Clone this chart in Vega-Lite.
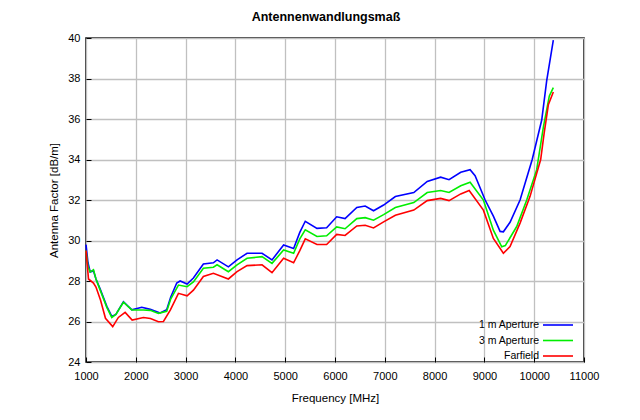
{
  "$schema": "https://vega.github.io/schema/vega-lite/v6.json",
  "width": 498,
  "height": 324,
  "autosize": {"type": "none"},
  "padding": {"left": 86, "top": 38, "right": 56, "bottom": 58},
  "background": "white",
  "title": {"text": "Antennenwandlungsmaß", "font": "Liberation Sans", "fontSize": 12.5, "fontWeight": "bold", "color": "black", "anchor": "middle", "offset": 9, "dx": -9},
  "config": {
    "view": {"stroke": "black", "strokeWidth": 1.5},
    "axis": {"labelFont": "Liberation Sans", "titleFont": "Liberation Sans", "labelFontSize": 11, "titleFontSize": 11.5, "titleFontWeight": "normal", "labelColor": "black", "titleColor": "black", "gridColor": "#c0c0c0", "gridWidth": 1.3, "gridOpacity": 1, "domain": false, "ticks": true, "tickSize": -5, "tickColor": "black", "tickWidth": 1},
    "legend": {"labelFont": "Liberation Sans", "labelFontSize": 10.5, "labelColor": "black"}
  },
  "data": {"values": [
    {"f": 1000, "v": 29.8, "s": "1 m Aperture"},
    {"f": 1040, "v": 28.9, "s": "1 m Aperture"},
    {"f": 1084, "v": 28.45, "s": "1 m Aperture"},
    {"f": 1150, "v": 28.5, "s": "1 m Aperture"},
    {"f": 1200, "v": 28.1, "s": "1 m Aperture"},
    {"f": 1285, "v": 27.6, "s": "1 m Aperture"},
    {"f": 1418, "v": 26.75, "s": "1 m Aperture"},
    {"f": 1518, "v": 26.25, "s": "1 m Aperture"},
    {"f": 1600, "v": 26.35, "s": "1 m Aperture"},
    {"f": 1752, "v": 26.98, "s": "1 m Aperture"},
    {"f": 1920, "v": 26.58, "s": "1 m Aperture"},
    {"f": 2120, "v": 26.7, "s": "1 m Aperture"},
    {"f": 2290, "v": 26.6, "s": "1 m Aperture"},
    {"f": 2488, "v": 26.42, "s": "1 m Aperture"},
    {"f": 2620, "v": 26.58, "s": "1 m Aperture"},
    {"f": 2700, "v": 27.2, "s": "1 m Aperture"},
    {"f": 2822, "v": 27.9, "s": "1 m Aperture"},
    {"f": 2890, "v": 28.0, "s": "1 m Aperture"},
    {"f": 3030, "v": 27.85, "s": "1 m Aperture"},
    {"f": 3157, "v": 28.15, "s": "1 m Aperture"},
    {"f": 3357, "v": 28.84, "s": "1 m Aperture"},
    {"f": 3558, "v": 28.9, "s": "1 m Aperture"},
    {"f": 3632, "v": 29.04, "s": "1 m Aperture"},
    {"f": 3859, "v": 28.7, "s": "1 m Aperture"},
    {"f": 4033, "v": 29.04, "s": "1 m Aperture"},
    {"f": 4234, "v": 29.37, "s": "1 m Aperture"},
    {"f": 4535, "v": 29.37, "s": "1 m Aperture"},
    {"f": 4735, "v": 29.04, "s": "1 m Aperture"},
    {"f": 4968, "v": 29.78, "s": "1 m Aperture"},
    {"f": 5169, "v": 29.6, "s": "1 m Aperture"},
    {"f": 5293, "v": 30.4, "s": "1 m Aperture"},
    {"f": 5403, "v": 30.95, "s": "1 m Aperture"},
    {"f": 5638, "v": 30.6, "s": "1 m Aperture"},
    {"f": 5832, "v": 30.63, "s": "1 m Aperture"},
    {"f": 6034, "v": 31.17, "s": "1 m Aperture"},
    {"f": 6202, "v": 31.08, "s": "1 m Aperture"},
    {"f": 6438, "v": 31.63, "s": "1 m Aperture"},
    {"f": 6606, "v": 31.7, "s": "1 m Aperture"},
    {"f": 6774, "v": 31.47, "s": "1 m Aperture"},
    {"f": 6976, "v": 31.75, "s": "1 m Aperture"},
    {"f": 7212, "v": 32.17, "s": "1 m Aperture"},
    {"f": 7582, "v": 32.37, "s": "1 m Aperture"},
    {"f": 7852, "v": 32.92, "s": "1 m Aperture"},
    {"f": 8121, "v": 33.13, "s": "1 m Aperture"},
    {"f": 8290, "v": 33.0, "s": "1 m Aperture"},
    {"f": 8525, "v": 33.37, "s": "1 m Aperture"},
    {"f": 8713, "v": 33.5, "s": "1 m Aperture"},
    {"f": 8813, "v": 33.2, "s": "1 m Aperture"},
    {"f": 9015, "v": 32.0, "s": "1 m Aperture"},
    {"f": 9180, "v": 31.2, "s": "1 m Aperture"},
    {"f": 9315, "v": 30.45, "s": "1 m Aperture"},
    {"f": 9381, "v": 30.43, "s": "1 m Aperture"},
    {"f": 9515, "v": 30.9, "s": "1 m Aperture"},
    {"f": 9716, "v": 32.0, "s": "1 m Aperture"},
    {"f": 9850, "v": 33.1, "s": "1 m Aperture"},
    {"f": 9960, "v": 34.0, "s": "1 m Aperture"},
    {"f": 10151, "v": 35.95, "s": "1 m Aperture"},
    {"f": 10251, "v": 37.9, "s": "1 m Aperture"},
    {"f": 10384, "v": 39.9, "s": "1 m Aperture"},
    {"f": 1000, "v": 29.5, "s": "3 m Aperture"},
    {"f": 1040, "v": 28.7, "s": "3 m Aperture"},
    {"f": 1084, "v": 28.45, "s": "3 m Aperture"},
    {"f": 1150, "v": 28.55, "s": "3 m Aperture"},
    {"f": 1200, "v": 28.1, "s": "3 m Aperture"},
    {"f": 1285, "v": 27.55, "s": "3 m Aperture"},
    {"f": 1418, "v": 26.7, "s": "3 m Aperture"},
    {"f": 1518, "v": 26.2, "s": "3 m Aperture"},
    {"f": 1600, "v": 26.35, "s": "3 m Aperture"},
    {"f": 1752, "v": 26.95, "s": "3 m Aperture"},
    {"f": 1920, "v": 26.57, "s": "3 m Aperture"},
    {"f": 2153, "v": 26.57, "s": "3 m Aperture"},
    {"f": 2290, "v": 26.55, "s": "3 m Aperture"},
    {"f": 2454, "v": 26.4, "s": "3 m Aperture"},
    {"f": 2620, "v": 26.5, "s": "3 m Aperture"},
    {"f": 2700, "v": 27.1, "s": "3 m Aperture"},
    {"f": 2856, "v": 27.8, "s": "3 m Aperture"},
    {"f": 3030, "v": 27.72, "s": "3 m Aperture"},
    {"f": 3157, "v": 27.95, "s": "3 m Aperture"},
    {"f": 3357, "v": 28.63, "s": "3 m Aperture"},
    {"f": 3558, "v": 28.68, "s": "3 m Aperture"},
    {"f": 3632, "v": 28.8, "s": "3 m Aperture"},
    {"f": 3859, "v": 28.46, "s": "3 m Aperture"},
    {"f": 4033, "v": 28.8, "s": "3 m Aperture"},
    {"f": 4234, "v": 29.12, "s": "3 m Aperture"},
    {"f": 4535, "v": 29.2, "s": "3 m Aperture"},
    {"f": 4735, "v": 28.87, "s": "3 m Aperture"},
    {"f": 4968, "v": 29.53, "s": "3 m Aperture"},
    {"f": 5169, "v": 29.37, "s": "3 m Aperture"},
    {"f": 5293, "v": 30.08, "s": "3 m Aperture"},
    {"f": 5403, "v": 30.53, "s": "3 m Aperture"},
    {"f": 5638, "v": 30.2, "s": "3 m Aperture"},
    {"f": 5832, "v": 30.23, "s": "3 m Aperture"},
    {"f": 6034, "v": 30.67, "s": "3 m Aperture"},
    {"f": 6202, "v": 30.58, "s": "3 m Aperture"},
    {"f": 6438, "v": 31.08, "s": "3 m Aperture"},
    {"f": 6606, "v": 31.13, "s": "3 m Aperture"},
    {"f": 6774, "v": 31.0, "s": "3 m Aperture"},
    {"f": 6976, "v": 31.28, "s": "3 m Aperture"},
    {"f": 7212, "v": 31.63, "s": "3 m Aperture"},
    {"f": 7582, "v": 31.87, "s": "3 m Aperture"},
    {"f": 7852, "v": 32.37, "s": "3 m Aperture"},
    {"f": 8121, "v": 32.47, "s": "3 m Aperture"},
    {"f": 8290, "v": 32.37, "s": "3 m Aperture"},
    {"f": 8525, "v": 32.7, "s": "3 m Aperture"},
    {"f": 8713, "v": 32.88, "s": "3 m Aperture"},
    {"f": 8980, "v": 32.0, "s": "3 m Aperture"},
    {"f": 9180, "v": 30.51, "s": "3 m Aperture"},
    {"f": 9348, "v": 29.69, "s": "3 m Aperture"},
    {"f": 9420, "v": 29.75, "s": "3 m Aperture"},
    {"f": 9649, "v": 30.69, "s": "3 m Aperture"},
    {"f": 9850, "v": 32.0, "s": "3 m Aperture"},
    {"f": 10050, "v": 33.5, "s": "3 m Aperture"},
    {"f": 10184, "v": 35.6, "s": "3 m Aperture"},
    {"f": 10304, "v": 37.14, "s": "3 m Aperture"},
    {"f": 10384, "v": 37.55, "s": "3 m Aperture"},
    {"f": 1000, "v": 29.5, "s": "Farfield"},
    {"f": 1050, "v": 28.1, "s": "Farfield"},
    {"f": 1150, "v": 27.9, "s": "Farfield"},
    {"f": 1200, "v": 27.7, "s": "Farfield"},
    {"f": 1291, "v": 27.06, "s": "Farfield"},
    {"f": 1391, "v": 26.16, "s": "Farfield"},
    {"f": 1537, "v": 25.75, "s": "Farfield"},
    {"f": 1650, "v": 26.2, "s": "Farfield"},
    {"f": 1786, "v": 26.45, "s": "Farfield"},
    {"f": 1927, "v": 26.07, "s": "Farfield"},
    {"f": 2153, "v": 26.2, "s": "Farfield"},
    {"f": 2294, "v": 26.15, "s": "Farfield"},
    {"f": 2454, "v": 25.99, "s": "Farfield"},
    {"f": 2555, "v": 26.0, "s": "Farfield"},
    {"f": 2695, "v": 26.57, "s": "Farfield"},
    {"f": 2856, "v": 27.39, "s": "Farfield"},
    {"f": 3030, "v": 27.27, "s": "Farfield"},
    {"f": 3157, "v": 27.55, "s": "Farfield"},
    {"f": 3357, "v": 28.22, "s": "Farfield"},
    {"f": 3558, "v": 28.38, "s": "Farfield"},
    {"f": 3859, "v": 28.1, "s": "Farfield"},
    {"f": 4033, "v": 28.46, "s": "Farfield"},
    {"f": 4234, "v": 28.76, "s": "Farfield"},
    {"f": 4535, "v": 28.8, "s": "Farfield"},
    {"f": 4735, "v": 28.41, "s": "Farfield"},
    {"f": 4968, "v": 29.12, "s": "Farfield"},
    {"f": 5169, "v": 28.9, "s": "Farfield"},
    {"f": 5293, "v": 29.5, "s": "Farfield"},
    {"f": 5403, "v": 30.08, "s": "Farfield"},
    {"f": 5638, "v": 29.8, "s": "Farfield"},
    {"f": 5832, "v": 29.8, "s": "Farfield"},
    {"f": 6034, "v": 30.3, "s": "Farfield"},
    {"f": 6202, "v": 30.25, "s": "Farfield"},
    {"f": 6438, "v": 30.72, "s": "Farfield"},
    {"f": 6606, "v": 30.75, "s": "Farfield"},
    {"f": 6774, "v": 30.62, "s": "Farfield"},
    {"f": 6976, "v": 30.92, "s": "Farfield"},
    {"f": 7212, "v": 31.25, "s": "Farfield"},
    {"f": 7582, "v": 31.5, "s": "Farfield"},
    {"f": 7852, "v": 31.97, "s": "Farfield"},
    {"f": 8121, "v": 32.08, "s": "Farfield"},
    {"f": 8290, "v": 31.97, "s": "Farfield"},
    {"f": 8525, "v": 32.3, "s": "Farfield"},
    {"f": 8694, "v": 32.47, "s": "Farfield"},
    {"f": 8980, "v": 31.5, "s": "Farfield"},
    {"f": 9180, "v": 30.1, "s": "Farfield"},
    {"f": 9381, "v": 29.37, "s": "Farfield"},
    {"f": 9515, "v": 29.7, "s": "Farfield"},
    {"f": 9716, "v": 30.86, "s": "Farfield"},
    {"f": 9917, "v": 32.18, "s": "Farfield"},
    {"f": 10130, "v": 34.0, "s": "Farfield"},
    {"f": 10200, "v": 35.3, "s": "Farfield"},
    {"f": 10284, "v": 36.7, "s": "Farfield"},
    {"f": 10384, "v": 37.33, "s": "Farfield"}
  ]},
  "mark": {"type": "line", "strokeWidth": 1.6, "interpolate": "linear"},
  "encoding": {
    "x": {"field": "f", "type": "quantitative", "title": "Frequency [MHz]",
      "scale": {"domain": [1000, 11000], "nice": false, "zero": false},
      "axis": {"values": [1000, 2000, 3000, 4000, 5000, 6000, 7000, 8000, 9000, 10000, 11000], "format": "d", "labelPadding": 13, "titlePadding": 11, "labelFlush": false}},
    "y": {"field": "v", "type": "quantitative", "title": "Antenna Factor [dB/m]",
      "scale": {"domain": [24, 40], "nice": false, "zero": false},
      "axis": {"values": [24, 26, 28, 30, 32, 34, 36, 38, 40], "labelPadding": 11, "titlePadding": 8, "labelFlush": false}},
    "color": {"field": "s", "type": "nominal",
      "scale": {"domain": ["1 m Aperture", "3 m Aperture", "Farfield"], "range": ["#0000ff", "#00ee00", "#ff0000"]},
      "legend": {"title": null, "orient": "none", "legendX": 465, "legendY": 280, "padding": 0, "rowPadding": 2.5,
        "symbolType": "M-2.5,0H2.5", "symbolSize": 144, "symbolStrokeWidth": 1.6,
        "labelAlign": "right", "labelOffset": -26}}
  }
}
